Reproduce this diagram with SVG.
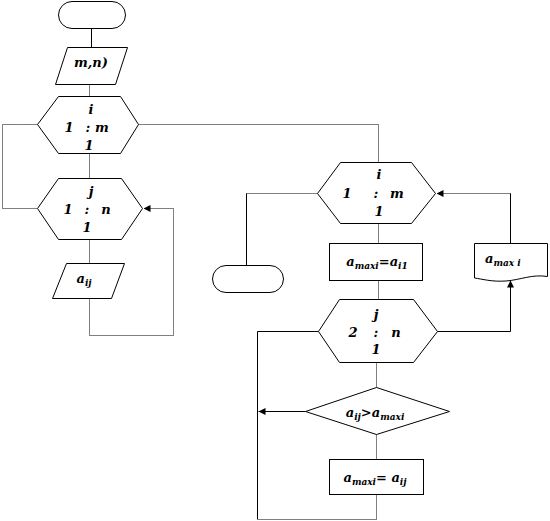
<svg xmlns="http://www.w3.org/2000/svg" width="550" height="521" viewBox="0 0 550 521">
<style>
.shape{fill:#fff;stroke:#000;stroke-width:1}
.edge{fill:none;stroke:#000;stroke-width:1}
.dot{stroke-dasharray:1 1}
.t{font-family:"DejaVu Serif","Liberation Serif",serif;font-weight:bold;font-style:italic;font-size:13px;fill:#000;text-anchor:middle}
.s{font-size:9px}
</style>
<defs>
<marker id="arr" viewBox="0 0 8 8" refX="8" refY="4" markerWidth="7" markerHeight="7" markerUnits="userSpaceOnUse" orient="auto">
<path d="M0,0 L8,4 L0,8 Z" fill="#000"/>
</marker>
</defs>
<rect width="550" height="521" fill="#fff"/>
<g id="connectors" transform="translate(0.5,0.5)">
<path class="edge" d="M91,28 V47"/>
<path class="edge dot" d="M89,84 V96"/>
<path class="edge dot" d="M37,124 H2 V208 H37"/>
<path class="edge dot" d="M138,124 H378 V162"/>
<path class="edge dot" d="M89,153 V178"/>
<path class="edge dot" d="M89,239 V263"/>
<path class="edge dot" d="M89,298 V335 H173 V208 H143" marker-end="url(#arr)"/>
<path class="edge dot" d="M317,193 H246"/>
<path class="edge" d="M246,193 V265"/>
<path class="edge dot" d="M378,223 V243"/>
<path class="edge dot" d="M378,280 V299"/>
<path class="edge" d="M510,243 V193"/>
<path class="edge dot" d="M510,193 H436" marker-end="url(#arr)"/>
<path class="edge" d="M437,331 H510 V280" marker-end="url(#arr)"/>
<path class="edge" d="M318,331 H257 V519"/>
<path class="edge dot" d="M376,362 V387"/>
<path class="edge" d="M305,411 H258" marker-end="url(#arr)"/>
<path class="edge dot" d="M376,434 V459"/>
<path class="edge dot" d="M376,494 V519 H257"/>
</g>
<g id="start">
<rect class="shape" x="58.5" y="1.5" width="67" height="27" rx="13.5"/>
</g>
<g id="input">
<polygon class="shape" points="67.5,47.5 127.5,47.5 115.5,84.5 55.5,84.5"/>
<text class="t" x="91" y="67">m,n)</text>
</g>
<g id="loop_i">
<polygon class="shape" points="58.5,96.5 120.5,96.5 138.5,124.5 120.5,153.5 58.5,153.5 37.5,124.5"/>
<text class="t" x="91" y="114">i</text>
<text class="t" x="69" y="132">1</text>
<text class="t" x="88" y="132">:</text>
<text class="t" x="102" y="132">m</text>
<text class="t" x="89" y="150">1</text>
</g>
<g id="loop_j">
<polygon class="shape" points="58.5,178.5 121.5,178.5 142.5,208.5 121.5,239.5 58.5,239.5 37.5,208.5"/>
<text class="t" x="91" y="196">j</text>
<text class="t" x="68" y="214">1</text>
<text class="t" x="87" y="214">:</text>
<text class="t" x="106" y="214">n</text>
<text class="t" x="87" y="232">1</text>
</g>
<g id="input_aij">
<polygon class="shape" points="66.5,263.5 124.5,263.5 111.5,298.5 52.5,298.5"/>
<text class="t" x="84" y="283">a<tspan class="s" dy="3">ij</tspan></text>
</g>
<g id="loop_i2">
<polygon class="shape" points="340.5,162.5 411.5,162.5 435.5,193.5 411.5,223.5 340.5,223.5 317.5,193.5"/>
<text class="t" x="379" y="179">i</text>
<text class="t" x="347" y="198">1</text>
<text class="t" x="376" y="198">:</text>
<text class="t" x="397" y="198">m</text>
<text class="t" x="379" y="216">1</text>
</g>
<g id="end">
<rect class="shape" x="212.5" y="265.5" width="71" height="27" rx="13.5"/>
</g>
<g id="assign1">
<rect class="shape" x="329.5" y="243.5" width="93" height="37"/>
<text class="t" x="377" y="266">a<tspan class="s" dy="3">maxi</tspan><tspan dy="-3">=a</tspan><tspan class="s" dy="3">i1</tspan></text>
</g>
<g id="output">
<path class="shape" d="M474.5,243.5 H547.5 V276.5 C532,274 520,280 506,281 C492,282 482,279 474.5,278 Z"/>
<text class="t" x="485" y="263" style="text-anchor:start">a<tspan class="s" dy="3">max i</tspan></text>
</g>
<g id="loop_j2">
<polygon class="shape" points="339.5,299.5 413.5,299.5 437.5,331.5 413.5,362.5 339.5,362.5 318.5,331.5"/>
<text class="t" x="376" y="319">j</text>
<text class="t" x="353" y="337">2</text>
<text class="t" x="376" y="337">:</text>
<text class="t" x="396" y="337">n</text>
<text class="t" x="376" y="354">1</text>
</g>
<g id="condition">
<polygon class="shape" points="376.5,387.5 449.5,411.5 376.5,434.5 305.5,411.5"/>
<text class="t" x="375" y="417">a<tspan class="s" dy="3">ij</tspan><tspan dy="-3">&gt;a</tspan><tspan class="s" dy="3">maxi</tspan></text>
</g>
<g id="assign2">
<rect class="shape" x="329.5" y="459.5" width="94" height="35"/>
<text class="t" x="375" y="482">a<tspan class="s" dy="3">maxi</tspan><tspan dy="-3">= a</tspan><tspan class="s" dy="3">ij</tspan></text>
</g>
</svg>
